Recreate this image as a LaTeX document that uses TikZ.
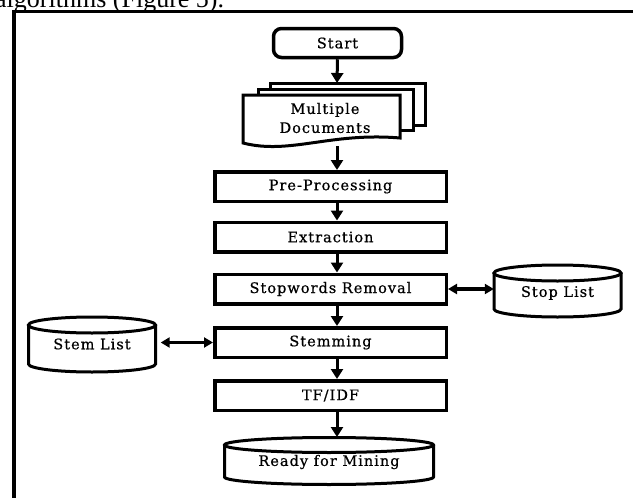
\documentclass[tikz,border=0pt]{standalone}
\usepackage{fontspec}
\setmainfont{Liberation Serif}
\newfontfamily\df{DejaVu Serif}[LetterSpace=7,FakeBold=0.6]
\usetikzlibrary{arrows.meta,calc}
\begin{document}
\begin{tikzpicture}[x=1pt,y=-1pt,
  lbl/.style={inner sep=0pt,font=\df\fontsize{14.5}{19}\selectfont},
  box/.style={lbl,draw,line width=3.5pt,minimum width=231.5pt,minimum height=29.5pt,fill=white},
  arr/.style={line width=3pt,-{Triangle[width=12pt,length=10pt]}},
  darr/.style={line width=3.5pt,{Triangle[width=10pt,length=9pt]}-{Triangle[width=10pt,length=9pt]}},
  cyl/.style={line width=3pt}]
\useasboundingbox (0,0) rectangle (633,498);
% caption fragment at the top
\begin{scope}
\clip (0,0) rectangle (633,498);
\node[anchor=base west,inner sep=0pt,font=\fontsize{26}{26}\selectfont] (cap) at (-5,7) {algorithms (Figure 5).};
\end{scope}
% frame
\draw[line width=3.5pt] (14,500) -- (14,11.5) -- (635,11.5);
% start
\node[lbl,draw,line width=3.5pt,rounded corners=8pt,minimum width=128pt,minimum height=29pt] (start) at (337.5,43) {Start};
% documents stack
\draw[line width=3pt,fill=white] (270,83) rectangle (425,125);
\draw[line width=3pt,fill=white] (258,89) rectangle (413,130);
\draw[line width=3pt,fill=white] (243,95) -- (400,95) -- (400,138)
  .. controls (330,132) and (290,155) .. (243,143) -- cycle;
\node[lbl,align=center] (docs) at (325,118) {Multiple\\Documents};
\coordinate (doctop) at (337,83);
\coordinate (docbot) at (337,146);
% process boxes
\node[box] (pre) at (330.5,186.5) {Pre-Processing};
\node[box] (ext) at (330.5,237) {Extraction};
\node[box] (stop) at (330.5,289) {Stopwords Removal};
\node[box] (stem) at (330.5,342.5) {Stemming};
\node[box] (tfidf) at (330.5,395.5) {TF/IDF};
% cylinders
\draw[cyl,fill=white] (494,273) -- (494,309) arc[start angle=180,end angle=360,x radius=63.5pt,y radius=8pt] -- (621,273);
\draw[cyl,fill=white] (557.5,273) ellipse[x radius=63.5pt,y radius=8pt];
\node[lbl,minimum width=127pt] (stoplist) at (557.5,293) {Stop List};
\draw[cyl,fill=white] (28.5,325) -- (28.5,364) arc[start angle=180,end angle=360,x radius=63.5pt,y radius=8pt] -- (155.5,325);
\draw[cyl,fill=white] (92,325) ellipse[x radius=63.5pt,y radius=8pt];
\node[lbl,minimum width=127pt] (stemlist) at (92,344) {Stem List};
\draw[cyl,fill=white] (224.5,445) -- (224.5,477) arc[start angle=180,end angle=360,x radius=104.5pt,y radius=7.5pt] -- (433.5,445);
\draw[cyl,fill=white] (329,445) ellipse[x radius=104.5pt,y radius=7.5pt];
\node[lbl,minimum width=209pt] (ready) at (329,462) {Ready for Mining};
\coordinate (readytop) at (337,437);
% connectors
\draw[arr] (start.south) -- (doctop);
\draw[arr] (docbot) -- (pre.north -| docbot);
\draw[arr] (pre.south -| docbot) -- (ext.north -| docbot);
\draw[arr] (ext.south -| docbot) -- (stop.north -| docbot);
\draw[arr] (stop.south -| docbot) -- (stem.north -| docbot);
\draw[arr] (stem.south -| docbot) -- (tfidf.north -| docbot);
\draw[arr] (tfidf.south -| docbot) -- (readytop);
\draw[darr] (stop.east) -- (stop.east -| stoplist.west);
\draw[darr,shorten <=5pt] (stem.west -| stemlist.east) -- (stem.west);
\end{tikzpicture}
\end{document}
